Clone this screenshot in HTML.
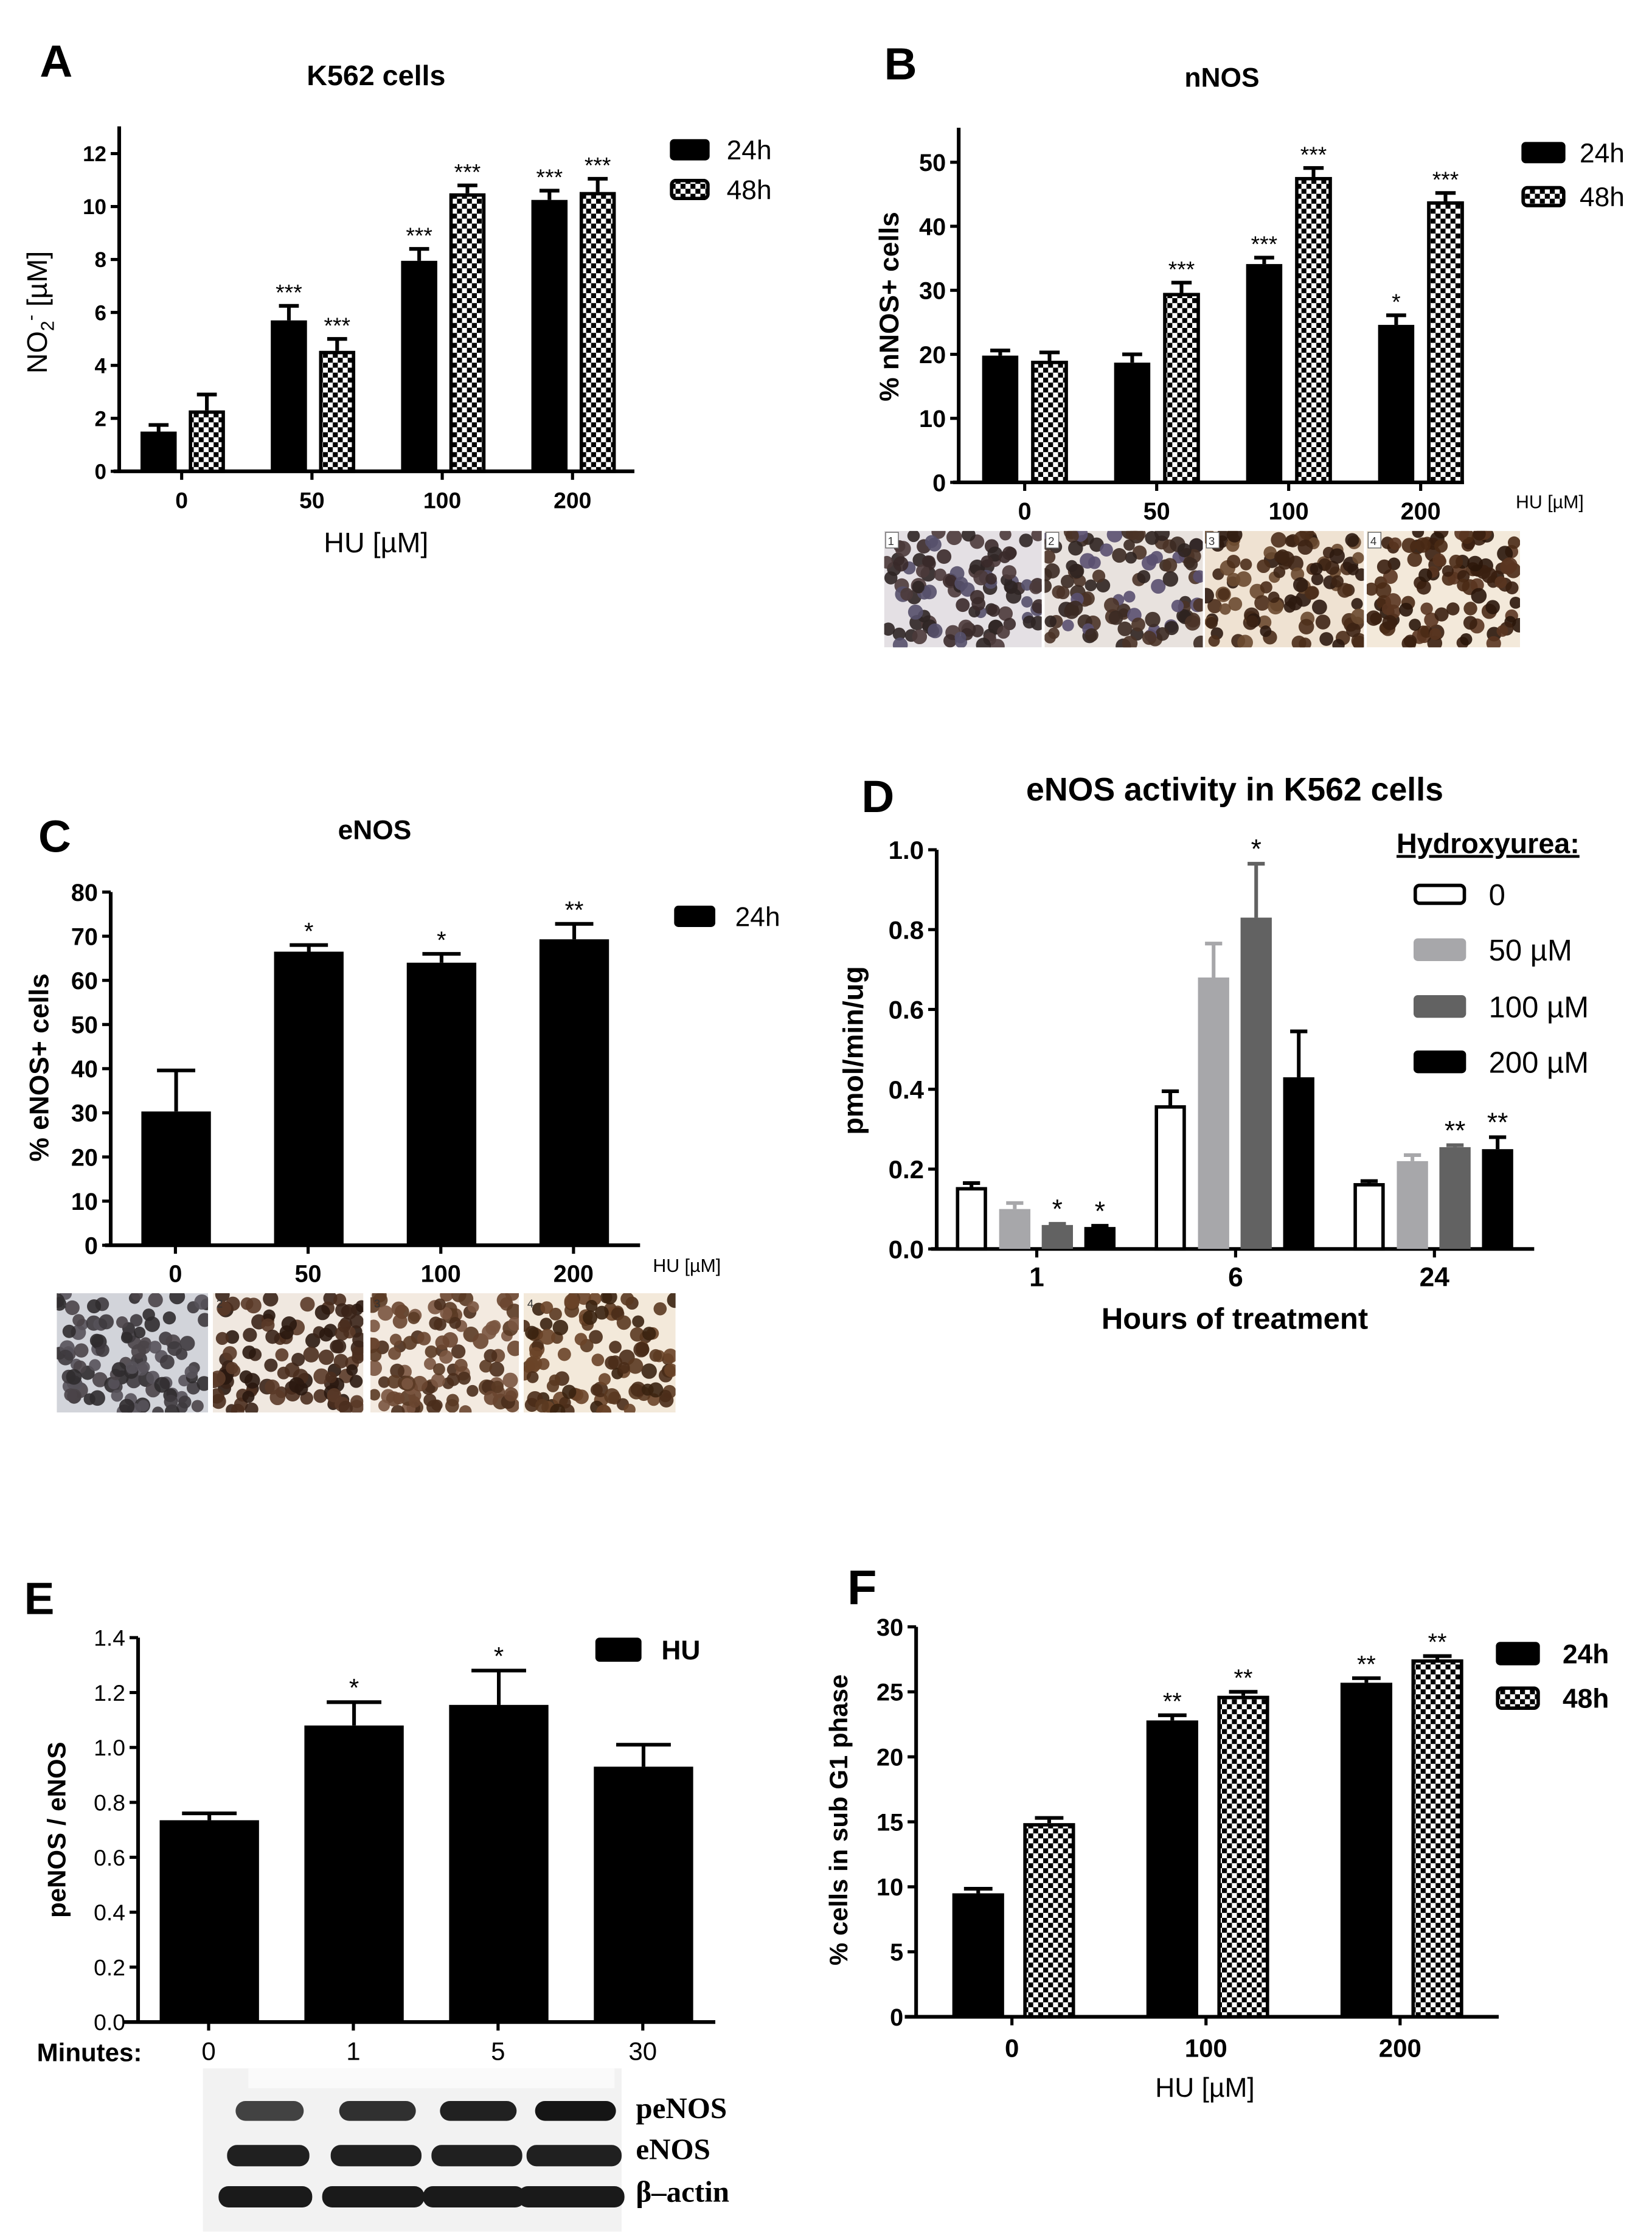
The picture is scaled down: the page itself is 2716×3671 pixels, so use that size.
<!DOCTYPE html>
<html><head><meta charset="utf-8"><title>NO figure</title>
<style>html,body{margin:0;padding:0;background:#fff;}svg{display:block;}</style></head>
<body>
<svg id="fig" xmlns="http://www.w3.org/2000/svg" width="2716" height="3671" viewBox="0 0 1164 1573" preserveAspectRatio="none">
<defs>
<pattern id="chk" patternUnits="userSpaceOnUse" width="7" height="7"><rect width="7" height="7" fill="#fff"/><rect width="3.5" height="3.5" fill="#000"/><rect x="3.5" y="3.5" width="3.5" height="3.5" fill="#000"/></pattern>
</defs>
</svg>
<script>
// ---------- Panel A data ----------
const A_categories=['0','50','100','200'];
const A_24h=[1.5,5.7,7.95,10.25];
const A_24h_err=[0.25,0.55,0.45,0.35];
const A_48h=[2.3,4.55,10.5,10.55];
const A_48h_err=[0.6,0.45,0.3,0.5];
const A_stars24=['','***','***','***'];
const A_stars48=['','***','***','***'];
const A_ticks=[0,2,4,6,8,10,12];
// ---------- Panel B data ----------
const B_categories=['0','50','100','200'];
const B_24h=[19.8,18.7,34.1,24.6];
const B_24h_err=[0.8,1.3,1.0,1.5];
const B_48h=[19,29.6,47.7,43.9];
const B_48h_err=[1.3,1.6,1.4,1.3];
const B_stars24=['','','***','*'];
const B_stars48=['','***','***','***'];
const B_ticks=[0,10,20,30,40,50];
// ---------- Panel C data ----------
const C_categories=['0','50','100','200'];
const C_24h=[30.3,66.5,64,69.3];
const C_24h_err=[9.3,1.5,2,3.5];
const C_stars=['','*','*','**'];
const C_ticks=[0,10,20,30,40,50,60,70,80];
// ---------- Panel D data ----------
const D_categories=['1','6','24'];
const D_0=[0.155,0.36,0.165];
const D_0_err=[0.01,0.035,0.005];
const D_50=[0.1,0.68,0.22];
const D_50_err=[0.015,0.085,0.015];
const D_100=[0.06,0.83,0.255];
const D_100_err=[0.003,0.135,0.005];
const D_200=[0.055,0.43,0.25];
const D_200_err=[0.003,0.115,0.03];
const D_stars100=['*','*','**'];
const D_stars200=['*','','**'];
const D_ticks=['0.0','0.2','0.4','0.6','0.8','1.0'];
// ---------- Panel E data ----------
const E_categories=['0','1','5','30'];
const E_HU=[0.735,1.08,1.155,0.93];
const E_HU_err=[0.025,0.085,0.125,0.08];
const E_stars=['','*','*',''];
const E_ticks=['0.0','0.2','0.4','0.6','0.8','1.0','1.2','1.4'];
// ---------- Panel F data ----------
const F_categories=['0','100','200'];
const F_24h=[9.5,22.8,25.7];
const F_24h_err=[0.35,0.4,0.35];
const F_48h=[14.9,24.7,27.5];
const F_48h_err=[0.4,0.3,0.25];
const F_stars24=['','**','**'];
const F_stars48=['','**','**'];
const F_ticks=[0,5,10,15,20,25,30];

const svg=document.getElementById('fig');
const NS='http://www.w3.org/2000/svg';
const SANS='"Liberation Sans", Arial, sans-serif';
function mk(tag,attrs,parent){const e=document.createElementNS(NS,tag);for(const k in attrs)e.setAttribute(k,attrs[k]);(parent||svg).appendChild(e);return e;}
function txt(s,attrs,parent){const e=mk('text',Object.assign({'font-family':SANS,fill:'#000'},attrs),parent);e.textContent=s;return e;}
function linY(v0,v1,p0,p1){return v=>p0+(v-v0)*(p1-p0)/(v1-v0);}

function axes(g,cfg){
  let e=mk('line',{x1:cfg.ax,y1:cfg.axTop,x2:cfg.ax,y2:cfg.y(0)+1.2,stroke:'#000','stroke-width':2.6},g);
  
  
  e=mk('line',{x1:cfg.ax-(cfg.xLeft||4),y1:cfg.y(0),x2:cfg.axEnd,y2:cfg.y(0),stroke:'#000','stroke-width':2.6},g);
  
  
  cfg.ticks.forEach(t=>{
    const v=parseFloat(t),yy=cfg.y(v);
    let l=mk('line',{x1:cfg.ax-6,y1:yy,x2:cfg.ax,y2:yy,stroke:'#000','stroke-width':2.2},g);
    
    
    let tl=txt(String(t),{x:cfg.ax-9,y:yy+cfg.tfs*0.36,'text-anchor':'end','font-size':cfg.tfs,'font-weight':cfg.tbold?'bold':'normal'},g);
    
    
  });
  cfg.cats.forEach((c,i)=>{
    const xx=cfg.gx(i);
    let l=mk('line',{x1:xx,y1:cfg.y(0),x2:xx,y2:cfg.y(0)+6,stroke:'#000','stroke-width':2.2},g);
    
    
    let tl=txt(c,{x:xx,y:cfg.catY,'text-anchor':'middle','font-size':cfg.cfs,'font-weight':cfg.cbold?'bold':'normal'},g);
    
    
  });
}
function series(g,cfg,vals,errs,stars,off,w,fill,stroke,errColor,nm){
  vals.forEach((v,i)=>{
    const x0=cfg.gx(i)+off, top=cfg.y(v), base=cfg.y(0);
    const et=cfg.y(v+errs[i]);
    const cap=w*0.55;
    let el=mk('line',{x1:x0+w/2,y1:top,x2:x0+w/2,y2:et,stroke:errColor,'stroke-width':2.6},g);
    
    
    el=mk('line',{x1:x0+w/2-cap/2,y1:et,x2:x0+w/2+cap/2,y2:et,stroke:errColor,'stroke-width':2.6},g);
    
    
    const sw=stroke?2.4:0;
    el=mk('rect',{x:x0+sw/2,y:top+sw/2,width:w-sw,height:Math.max(0,base-top-sw/2),fill:fill,stroke:stroke||'none','stroke-width':sw},g);
    
    
    if(stars&&stars[i]){
      el=txt(stars[i],{x:x0+w/2,y:et-4,'text-anchor':'middle','font-size':cfg.sfs||17},g);
      
      
    }
  });
}
function legendBox(g,x,y,w,h,fill,stroke,label,tx,fs,bold,nm){
  const gg=mk('g',{},g);
  
  
  const sw=stroke?2.4:0;
  let r=mk('rect',{x:x+sw/2,y:y+sw/2,width:w-sw,height:h-sw,rx:3,fill:fill,stroke:stroke||'none','stroke-width':sw},gg);
  
  
  let t=txt(label,{x:tx,y:y+h/2+fs*0.36,'font-size':fs,'font-weight':bold?'bold':'normal'},gg);
  
  
}
function vlabel(g,s,x,y,fs,bold,nm){
  const t=txt(s,{x:0,y:0,'text-anchor':'middle','font-size':fs,'font-weight':bold?'bold':'normal',transform:`translate(${x},${y}) rotate(-90)`},g);
  
  
  return t;
}
function label(g,s,attrs,nm){
  const t=txt(s,attrs,g);
  
  
  return t;
}
let seed=12345;function rnd(){seed=(seed*1103515245+12345)%2147483648;return seed/2147483648;}
function micro(g,x,y,w,h,bg,cell,num,boxed,nm){
  const gg=mk('g',{},g);
  
  
  const id='clip'+nm;
  const cp=mk('clipPath',{id:id},gg);mk('rect',{x:x,y:y,width:w,height:h},cp);
  const inner=mk('g',{'clip-path':`url(#${id})`},gg);
  mk('rect',{x:x,y:y,width:w,height:h,fill:bg},inner);
  for(let k=0;k<110;k++){
    const cx=x+rnd()*w, cy=y+rnd()*h, r=4+rnd()*1.6;
    const col=cell[Math.floor(rnd()*cell.length)];
    mk('circle',{cx:cx,cy:cy,r:r,fill:col,opacity:0.9},inner);
  }
  if(boxed){mk('rect',{x:x+1,y:y+1,width:9,height:11,fill:'#fff',stroke:'#666','stroke-width':0.6},gg);}
  const t=txt(num,{x:x+2.5,y:y+10,'font-size':8,fill:'#333'},gg);
  
  
}

// ================= Panel A =================
(function(){
  const g=mk('g',{});
  const cfg={ax:84,axTop:89,axEnd:447,y:linY(0,12,332,108.2),ticks:A_ticks,tfs:15,tbold:true,cats:A_categories,gx:i=>128+i*91.8,catY:358,cfs:16,cbold:true,sfs:16};
  axes(g,cfg);
  series(g,cfg,A_24h,A_24h_err,A_stars24,-29,25.5,'#000',null,'#000','a-24h');
  series(g,cfg,A_48h,A_48h_err,A_stars48,5,25.5,'url(#chk)','#000','#000','a-48h');
  label(g,'A',{x:28,y:54,'font-size':32,'font-weight':'bold'},'panel-letter-a');
  label(g,'K562 cells',{x:265,y:60,'text-anchor':'middle','font-size':20,'font-weight':'bold'},'chart-title');
  label(g,'HU [\u00b5M]',{x:265,y:389,'text-anchor':'middle','font-size':20},'x-axis-title');
  const t=vlabel(g,'',33,220,20,false,'y-axis-title');
  t.innerHTML='NO<tspan font-size="13" dy="5">2</tspan><tspan font-size="13" dy="-12">-</tspan><tspan dy="7"> [\u00b5M]</tspan>';
  legendBox(g,472,98,28,15,'#000',null,'24h',512,19,false,'legend-24h');
  legendBox(g,472,126,28,15,'url(#chk)','#000','48h',512,19,false,'legend-48h');
})();

// ================= Panel B =================
(function(){
  const g=mk('g',{});
  const cfg={ax:675.5,axTop:90,axEnd:1031.5,y:linY(0,50,339.8,114.3),ticks:B_ticks,tfs:17,tbold:true,cats:B_categories,gx:i=>722+i*93,catY:366,cfs:17,cbold:true,sfs:16};
  axes(g,cfg);
  series(g,cfg,B_24h,B_24h_err,B_stars24,-30,25.5,'#000',null,'#000','b-24h');
  series(g,cfg,B_48h,B_48h_err,B_stars48,4.5,26,'url(#chk)','#000','#000','b-48h');
  label(g,'B',{x:623,y:56,'font-size':32,'font-weight':'bold'},'panel-letter-b');
  label(g,'nNOS',{x:861,y:61,'text-anchor':'middle','font-size':19,'font-weight':'bold'},'chart-title');
  label(g,'HU [\u00b5M]',{x:1068,y:358,'font-size':13},'x-axis-title');
  vlabel(g,'% nNOS+ cells',633,216,19,true,'y-axis-title');
  legendBox(g,1072,100,31,15,'#000',null,'24h',1113,19,false,'legend-24h');
  legendBox(g,1072,131,31,15,'url(#chk)','#000','48h',1113,19,false,'legend-48h');
  const xs=[623,736,849,963],ws=[111,111.5,112,108];
  const bgs=['#e4e0e4','#e8e2de','#efe2d2','#f3e9da'];
  const cells=[['#3a2a2a','#4b3a3a','#55506a','#2e2524'],['#3b2a22','#4a3327','#5a5070','#2f2320'],['#3d2414','#4b2d1a','#6a4a30','#2c1a10'],['#3a1f10','#4a2a15','#2a160a','#5a3520']];
  for(let i=0;i<4;i++)micro(g,xs[i],374,ws[i],82,bgs[i],cells[i],String(i+1),true,'b-micrograph-'+(i+1));
})();

// ================= Panel C =================
(function(){
  const g=mk('g',{});
  const cfg={ax:78,axTop:628.4,axEnd:451,y:linY(0,80,877.2,628.4),ticks:C_ticks,tfs:17,tbold:true,cats:C_categories,gx:i=>123.6+i*93.5,catY:903,cfs:17,cbold:true,sfs:17};
  axes(g,cfg);
  series(g,cfg,C_24h,C_24h_err,C_stars,-24,49,'#000',null,'#000','c-24h');
  label(g,'C',{x:27,y:600,'font-size':32,'font-weight':'bold'},'panel-letter-c');
  label(g,'eNOS',{x:264,y:591,'text-anchor':'middle','font-size':19,'font-weight':'bold'},'chart-title');
  label(g,'HU [\u00b5M]',{x:460,y:896,'font-size':13},'x-axis-title');
  vlabel(g,'% eNOS+ cells',34,752,19,true,'y-axis-title');
  legendBox(g,475,638,29,15,'#000',null,'24h',518,19,false,'legend-24h');
  const xs=[40,150,261,369],ws=[106.6,106,104.6,107];
  const bgs=['#d2d4da','#f0e8e0','#f3eae0','#f3e9da'];
  const cells=[['#3e3a3e','#4a4448','#56525a','#2f2b2e'],['#3a2418','#4a2e1e','#5a3a28','#2a1810'],['#5a3a24','#6a4630','#4a2e1c','#7a5540'],['#4a2c18','#5a3820','#3a2210','#6a4428']];
  for(let i=0;i<4;i++)micro(g,xs[i],911,ws[i],84,bgs[i],cells[i],String(i+1),false,'c-micrograph-'+(i+1));
})();

// ================= Panel D =================
(function(){
  const g=mk('g',{});
  const cfg={ax:660,axTop:598.6,axEnd:1081,y:linY(0,1,879.8,598.6),ticks:D_ticks,tfs:18,tbold:true,cats:D_categories,gx:i=>730.5+i*140.1,catY:906,cfs:19,cbold:true,sfs:19};
  axes(g,cfg);
  series(g,cfg,D_0,D_0_err,null,-57,22,'#fff','#000','#000','d-0');
  series(g,cfg,D_50,D_50_err,null,-26.5,22,'#a7a7aa',null,'#a7a7aa','d-50');
  series(g,cfg,D_100,D_100_err,D_stars100,3.5,22,'#626262',null,'#626262','d-100');
  series(g,cfg,D_200,D_200_err,D_stars200,33.5,22,'#000',null,'#000','d-200');
  label(g,'D',{x:607,y:572,'font-size':32,'font-weight':'bold'},'panel-letter-d');
  label(g,'eNOS activity in K562 cells',{x:870,y:564,'text-anchor':'middle','font-size':23,'font-weight':'bold'},'chart-title');
  label(g,'Hours of treatment',{x:870,y:936,'text-anchor':'middle','font-size':21,'font-weight':'bold'},'x-axis-title');
  vlabel(g,'pmol/min/ug',608,740,20,true,'y-axis-title');
  label(g,'Hydroxyurea:',{x:984,y:601,'font-size':20,'font-weight':'bold','text-decoration':'underline'},'legend-title');
  legendBox(g,996,622.5,37,15,'#fff','#000','0',1049,21,false,'legend-0');
  legendBox(g,996,661,37,16,'#a7a7aa',null,'50 \u00b5M',1049,21,false,'legend-50');
  legendBox(g,996,701,37,16,'#626262',null,'100 \u00b5M',1049,21,false,'legend-100');
  legendBox(g,996,740,37,16,'#000',null,'200 \u00b5M',1049,21,false,'legend-200');
})();

// ================= Panel E =================
(function(){
  const g=mk('g',{});
  const cfg={ax:97.3,axTop:1153.6,axEnd:504,xLeft:10,y:linY(0,1.4,1424.4,1153.6),ticks:E_ticks,tfs:16,tbold:false,cats:E_categories,gx:i=>147+i*101.97,catY:1451,cfs:18,cbold:false,sfs:18};
  axes(g,cfg);
  series(g,cfg,E_HU,E_HU_err,E_stars,-34.5,70,'#000',null,'#000','e-hu');
  label(g,'E',{x:17,y:1137,'font-size':32,'font-weight':'bold'},'panel-letter-e');
  label(g,'Minutes:',{x:26,y:1452,'font-size':18,'font-weight':'bold'},'x-axis-title');
  vlabel(g,'peNOS / eNOS',46,1289,18,true,'y-axis-title');
  legendBox(g,419.5,1153.6,32.5,17,'#000',null,'HU',466,19,true,'legend-hu');
  const b=mk('g',{});
  mk('rect',{x:143,y:1457,width:295,height:115,fill:'#f2f2f2'},b);
  mk('rect',{x:175,y:1457,width:258,height:14,fill:'#fafafa'},b);
  const lanes=[[160,218],[233,297],[304,368],[371,438]];
  const pe=[0.8,0.88,0.95,1];
  lanes.forEach((l,i)=>{
    mk('rect',{x:l[0]+6,y:1480,width:l[1]-l[0]-10,height:14,rx:7,fill:'#151515',opacity:pe[i]},b);
    mk('rect',{x:l[0],y:1511,width:l[1]-l[0],height:15,rx:7,fill:'#202020'},b);
    mk('rect',{x:l[0]-6,y:1540,width:l[1]-l[0]+8,height:15,rx:7,fill:'#1a1a1a'},b);
  });
  const SER='"Liberation Serif", "Times New Roman", serif';
  label(g,'peNOS',{x:448,y:1492,'font-size':21,'font-weight':'bold','font-family':SER},'band-label-penos');
  label(g,'eNOS',{x:448,y:1521,'font-size':21,'font-weight':'bold','font-family':SER},'band-label-enos');
  label(g,'\u03b2\u2013actin',{x:448,y:1551,'font-size':21,'font-weight':'bold','font-family':SER},'band-label-actin');
})();

// ================= Panel F =================
(function(){
  const g=mk('g',{});
  const cfg={ax:645.5,axTop:1146,axEnd:1056,xLeft:8,y:linY(0,30,1420.7,1146),ticks:F_ticks,tfs:17,tbold:true,cats:F_categories,gx:i=>713+i*136.75,catY:1449,cfs:18,cbold:true,sfs:17};
  axes(g,cfg);
  series(g,cfg,F_24h,F_24h_err,F_stars24,-42,36.5,'#000',null,'#000','f-24h');
  series(g,cfg,F_48h,F_48h_err,F_stars48,8,36.5,'url(#chk)','#000','#000','f-48h');
  label(g,'F',{x:597,y:1130,'font-size':34,'font-weight':'bold'},'panel-letter-f');
  label(g,'HU [\u00b5M]',{x:849,y:1477,'text-anchor':'middle','font-size':19},'x-axis-title');
  vlabel(g,'% cells in sub G1 phase',597,1282,18,true,'y-axis-title');
  legendBox(g,1054,1156.6,31,16.5,'#000',null,'24h',1101,19,true,'legend-24h');
  legendBox(g,1054,1188,31,16.5,'url(#chk)','#000','48h',1101,19,true,'legend-48h');
})();
</script>
</body></html>
